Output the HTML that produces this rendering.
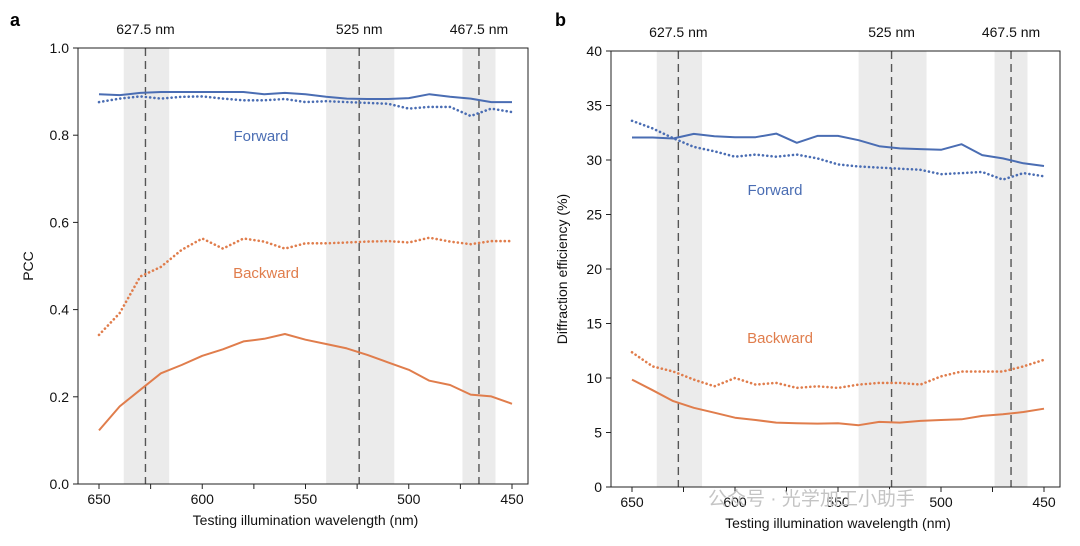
<!DOCTYPE html>
<html><head><meta charset="utf-8"><style>
body{margin:0;background:#fff;}
svg{display:block;font-family:"Liberation Sans","Noto Sans CJK SC",sans-serif;}
</style></head><body>
<svg id="c" width="1080" height="546">
<g id="pa"></g>
<g id="pb"></g>
<text x="708" y="505" font-size="19" fill="#c4c4c4">公众号 · 光学加工小助手</text>
</svg>
<script>
const wavelengths=[650,640,630,620,610,600,590,580,570,560,550,540,530,520,510,500,490,480,470,460,450];
const pccFwdSolid=[0.894,0.892,0.897,0.899,0.899,0.899,0.899,0.899,0.894,0.897,0.894,0.888,0.884,0.883,0.883,0.885,0.894,0.888,0.884,0.876,0.876];
const pccFwdDot=[0.876,0.884,0.889,0.884,0.888,0.889,0.884,0.880,0.880,0.883,0.876,0.878,0.876,0.874,0.872,0.861,0.865,0.865,0.844,0.861,0.853];
const pccBwdDot=[0.342,0.392,0.476,0.498,0.537,0.563,0.540,0.563,0.556,0.540,0.552,0.552,0.554,0.556,0.557,0.554,0.565,0.556,0.550,0.557,0.557];
const pccBwdSolid=[0.123,0.178,0.216,0.254,0.273,0.294,0.309,0.327,0.333,0.344,0.331,0.321,0.311,0.296,0.279,0.262,0.237,0.227,0.205,0.201,0.184];
const deFwdSolid=[32.06,32.06,31.97,32.39,32.18,32.09,32.09,32.42,31.58,32.21,32.21,31.82,31.27,31.06,31.0,30.94,31.45,30.45,30.15,29.7,29.45];
const deFwdDot=[33.6,32.9,32.0,31.2,30.8,30.3,30.5,30.3,30.5,30.15,29.6,29.4,29.3,29.2,29.1,28.7,28.8,28.9,28.2,28.8,28.5];
const deBwdDot=[12.36,11.06,10.6,9.85,9.24,10.0,9.39,9.55,9.09,9.24,9.09,9.39,9.55,9.55,9.39,10.15,10.6,10.6,10.6,11.06,11.67];
const deBwdSolid=[9.85,8.88,7.88,7.27,6.82,6.36,6.15,5.91,5.85,5.82,5.85,5.67,5.97,5.91,6.06,6.15,6.21,6.52,6.67,6.88,7.18];
const bandRanges=[[638,616],[540,507],[474,458]];
const markerLines=[627.5,524,466];
const markerLabels=["627.5 nm","525 nm","467.5 nm"];
const xTicks=[650,600,550,500,450];
const xMinorTicks=[650,625,600,575,550,525,500,475,450];
const pccTicks=[0,0.2,0.4,0.6,0.8,1.0];
const deTicks=[0,5,10,15,20,25,30,35,40];
const NS="http://www.w3.org/2000/svg";
const BLUE="#4a6db3",ORANGE="#e07d4c";
function mk(p,t,a,txt){const e=document.createElementNS(NS,t);for(const k in a)e.setAttribute(k,a[k]);if(txt!==undefined)e.textContent=txt;p.appendChild(e);return e;}
function panel(g,o){
 const X=w=>o.x0+(650-w)/200*(o.x1-o.x0);
 const Y=v=>o.yb-(v-o.ymin)/(o.ymax-o.ymin)*(o.yb-o.yt);
 bandRanges.forEach(b=>{const r=mk(g,'rect',{x:X(b[0]),y:o.yt,width:X(b[1])-X(b[0]),height:o.yb-o.yt,fill:'#ebebeb'});
  
  });
 markerLines.forEach((m,i)=>{const l=mk(g,'line',{x1:X(m),x2:X(m),y1:o.yt,y2:o.yb,stroke:'#555','stroke-width':1.4,'stroke-dasharray':'8,5'});
  
  
  const t=mk(g,'text',{x:X(m),y:o.yt-14,'font-size':14,'text-anchor':'middle',fill:'#111'},markerLabels[i]);
  
  });
 const series=[[o.s[0],BLUE,''],[o.s[1],BLUE,'0.1,4.2'],[o.s[2],ORANGE,'0.1,4.2'],[o.s[3],ORANGE,'']];
 series.forEach((s,i)=>{const d=s[0].map((v,j)=>(j?'L':'M')+X(wavelengths[j]).toFixed(1)+','+Y(v).toFixed(1)).join('');
  const p=mk(g,'path',{d:d,fill:'none',stroke:s[1],'stroke-width':s[2]?2.6:2,'stroke-dasharray':s[2],'stroke-linecap':s[2]?'round':'butt','stroke-linejoin':'round'});
  
  });
 const f=mk(g,'rect',{x:o.x0-21,y:o.yt,width:o.x1-o.x0+37,height:o.yb-o.yt,fill:'none',stroke:'#222','stroke-width':1});
 
 
 xMinorTicks.forEach(w=>{mk(g,'line',{x1:X(w),x2:X(w),y1:o.yb,y2:o.yb+5,stroke:'#222'});});
 xTicks.forEach(w=>{const t=mk(g,'text',{x:X(w),y:o.yb+20,'font-size':14,'text-anchor':'middle',fill:'#111'},w);
  
  });
 o.ticks.forEach(v=>{mk(g,'line',{x1:o.x0-26,x2:o.x0-21,y1:Y(v),y2:Y(v),stroke:'#222'});
  const t=mk(g,'text',{x:o.x0-30,y:Y(v)+5,'font-size':14,'text-anchor':'end',fill:'#111'},o.fmt(v));
  
  });
 const xt=mk(g,'text',{x:(o.x0+o.x1)/2,y:o.yb+41,'font-size':14,'text-anchor':'middle',fill:'#111'},'Testing illumination wavelength (nm)');
 
 
 const yt=mk(g,'text',{x:0,y:0,'font-size':14,'text-anchor':'middle',fill:'#111',transform:`translate(${o.ytx},${(o.yt+o.yb)/2}) rotate(-90)`},o.ytitle);
 
 
 const pl=mk(g,'text',{x:o.lx,y:26,'font-size':18,'font-weight':'bold',fill:'#000'},o.letter);
 
 
 const fl=mk(g,'text',{x:o.fwd[0],y:o.fwd[1],'font-size':15,'text-anchor':'middle',fill:BLUE},'Forward');
 
 
 const bl=mk(g,'text',{x:o.bwd[0],y:o.bwd[1],'font-size':15,'text-anchor':'middle',fill:ORANGE},'Backward');
 
 
}
panel(document.getElementById('pa'),{x0:99,x1:512,yt:48,yb:484,ymin:0,ymax:1,s:[pccFwdSolid,pccFwdDot,pccBwdDot,pccBwdSolid],ticks:pccTicks,fmt:v=>v.toFixed(1),ytx:33,ytitle:'PCC',letter:'a',lx:10,fwd:[261,141],bwd:[266,278]});
panel(document.getElementById('pb'),{x0:632,x1:1044,yt:51,yb:487,ymin:0,ymax:40,s:[deFwdSolid,deFwdDot,deBwdDot,deBwdSolid],ticks:deTicks,fmt:v=>v,ytx:567,ytitle:'Diffraction efficiency (%)',letter:'b',lx:555,fwd:[775,195],bwd:[780,343]});
</script>
</body></html>
